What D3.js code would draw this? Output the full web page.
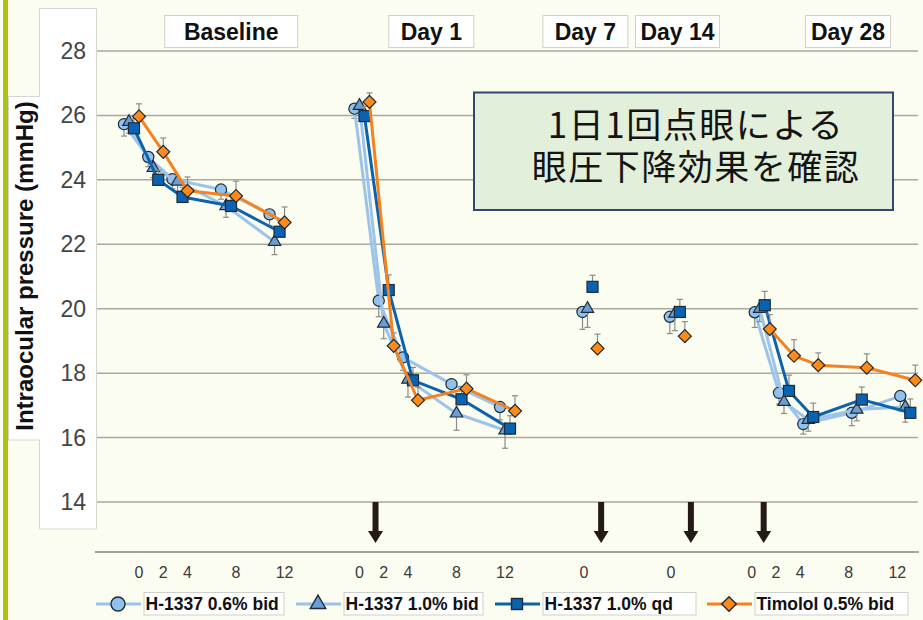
<!DOCTYPE html>
<html>
<head>
<meta charset="utf-8">
<script src="https://cdn.jsdelivr.net/npm/d3@7"></script>
<style>
  body { margin: 0; background: #fcfdf1; }
  svg { display: block; font-family: "Liberation Sans", Arial, sans-serif; }
</style>
</head>
<body>
<svg id="chart" width="923" height="620"></svg>
<script>
// ---- data ----
const periods = ['Baseline', 'Day 1', 'Day 7', 'Day 14', 'Day 28']
const periodStart = [0, 19, 37.8, 45, 52]   // hours on the continuous x axis
const hours = [[0, 2, 4, 8, 12], [0, 2, 4, 8, 12], [0], [0], [0, 2, 4, 8, 12]]
const seriesNames = ['H-1337 0.6% bid', 'H-1337 1.0% bid', 'H-1337 1.0% qd', 'Timolol 0.5% bid']
const yTicks = [14, 16, 18, 20, 22, 24, 26, 28]

const iop06bid = [[25.73, 24.71, 24.02, 23.70, 22.93], [26.21, 20.25, 18.49, 17.66, 16.95], [19.90], [19.75], [19.89, 17.39, 16.42, 16.77, 17.29]]
const iop10bid = [[25.80, 24.37, 23.95, 23.19, 22.08], [26.30, 19.54, 17.80, 16.75, 16.23], [20.00], [19.85], [20.00, 17.11, 16.55, 16.87, 16.95]]
const iop10qd = [[25.60, 24.00, 23.47, 23.19, 22.39], [25.98, 20.58, 17.78, 17.19, 16.28], [20.68], [19.90], [20.11, 17.45, 16.64, 17.18, 16.77]]
const timolol = [[25.97, 24.87, 23.66, 23.50, 22.68], [26.42, 18.85, 17.16, 17.52, 16.83], [18.77], [19.15], [19.37, 18.54, 18.25, 18.17, 17.78]]

const sem06bid = [[0.37, 0.30, 0.30, 0.30, 0.35], [0.30, 0.50, 0.40, 0.35, 0.40], [0.54], [0.52], [0.47, 0.35, 0.31, 0.40, 0.35]]
const sem10bid = [[0.35, 0.30, 0.30, 0.35, 0.40], [0.30, 0.47, 0.54, 0.52, 0.56], [0.58], [0.53], [0.40, 0.36, 0.35, 0.35, 0.47]]
const sem10qd = [[0.30, 0.30, 0.30, 0.30, 0.35], [0.30, 0.47, 0.40, 0.40, 0.40], [0.36], [0.39], [0.43, 0.49, 0.43, 0.39, 0.43]]
const semTim = [[0.39, 0.43, 0.43, 0.46, 0.48], [0.28, 0.40, 0.40, 0.43, 0.47], [0.44], [0.45], [0.45, 0.50, 0.38, 0.43, 0.47]]

const boxLines = ['1日1回点眼による', '眼圧下降効果を確認']

// ---- layout ----
const W = 923, H = 620
const series = [
  { name: seriesNames[0], v: iop06bid, e: sem06bid, dir: -1, line: '#9cc4e8', fill: '#8fc1ec', shape: 'circle', dodge: -15 },
  { name: seriesNames[1], v: iop10bid, e: sem10bid, dir: -1, line: '#9cc4e8', fill: '#6b9fd3', shape: 'triangle', dodge: -10 },
  { name: seriesNames[2], v: iop10qd, e: sem10qd, dir: 1, line: '#0b63ad', fill: '#0a63b0', shape: 'square', dodge: -5 },
  { name: seriesNames[3], v: timolol, e: semTim, dir: 1, line: '#f5821f', fill: '#ff8a17', shape: 'diamond', dodge: 0 }
]
const headerAt = [7.6, 5.1, -1.0, -0.6, 6.45]   // header centre, hours from period start
const headerW = [133, 85, 85, 84, 85]
const tickShift = [0, -10, -13.5, -14, -18]
const arrowAt = [null, 0.5, 0.3, 0.5, -0.5]

const svg = d3.select('#chart')
const x = d3.scaleLinear().domain([0, 64]).range([139, 915.3])
const y = d3.scaleLinear().domain([12.45, 28]).range([552, 51])

// background + left accent
svg.append('rect').attr('width', W).attr('height', H).attr('fill', '#fcfdf1')
svg.append('rect').attr('x', 3).attr('y', 0).attr('width', 5).attr('height', H).attr('fill', '#aec214')

// white panels behind the y axis
svg.append('rect').attr('x', 39.5).attr('y', 8.5).attr('width', 57).attr('height', 520.5).attr('fill', '#fff')
svg.append('rect').attr('x', 8.5).attr('y', 96.5).attr('width', 32).attr('height', 343.5).attr('fill', '#fff')
svg.append('path')
  .attr('d', 'M39.5,96.5 V8.5 H96.5 V529 H39.5 V440 H8.5 V96.5 Z')
  .attr('fill', 'none').attr('stroke', '#d6d6d0').attr('stroke-width', 1)

// grid
svg.append('g').selectAll('line').data(yTicks).join('line')
  .attr('x1', 97).attr('x2', 918)
  .attr('y1', d => y(d)).attr('y2', d => y(d))
  .attr('stroke', '#a9a99e').attr('stroke-width', 1.5)

svg.append('g').selectAll('text').data(yTicks).join('text')
  .attr('x', 86).attr('y', d => y(d) + 8)
  .attr('text-anchor', 'end').attr('font-size', 23).attr('fill', '#444')
  .text(d => d)

// x axis line
svg.append('line').attr('x1', 95).attr('x2', 919).attr('y1', y(12.45)).attr('y2', y(12.45))
  .attr('stroke', '#a4a496').attr('stroke-width', 2)

// y title
svg.append('text')
  .attr('transform', `translate(33,266) rotate(-90)`)
  .attr('text-anchor', 'middle').attr('font-size', 24).attr('font-weight', 'bold').attr('fill', '#111')
  .text('Intraocular pressure (mmHg)')

// x tick labels
periods.forEach((p, i) => {
  svg.append('g').selectAll('text').data(hours[i]).join('text')
    .attr('x', h => x(periodStart[i] + h) + tickShift[i])
    .attr('y', 578)
    .attr('text-anchor', 'middle').attr('font-size', 16).attr('fill', '#3a3a3a')
    .text(h => h)
})

// period headers
periods.forEach((p, i) => {
  const cx = x(periodStart[i] + headerAt[i])
  svg.append('rect').attr('x', cx - headerW[i] / 2).attr('y', 15.5)
    .attr('width', headerW[i]).attr('height', 32)
    .attr('fill', '#fff').attr('stroke', '#d0d0cc').attr('stroke-width', 1)
  svg.append('text').attr('x', cx).attr('y', 39.5)
    .attr('text-anchor', 'middle').attr('font-size', 23).attr('font-weight', 'bold').attr('fill', '#111')
    .text(p)
})

// dosing arrows
const arrow = d3.path()
periods.forEach((p, i) => {
  if (arrowAt[i] === null) return
  const ax = x(periodStart[i] + arrowAt[i]), top = y(14)
  arrow.moveTo(ax - 3, top); arrow.lineTo(ax + 3, top); arrow.lineTo(ax + 3, top + 29)
  arrow.lineTo(ax + 7.5, top + 29); arrow.lineTo(ax, top + 41); arrow.lineTo(ax - 7.5, top + 29)
  arrow.lineTo(ax - 3, top + 29); arrow.closePath()
})
svg.append('path').attr('d', arrow.toString()).attr('fill', '#241a16')

// callout box (one text element, two lines)
svg.append('rect').attr('x', 474).attr('y', 92.5).attr('width', 419).attr('height', 117.5)
  .attr('fill', '#e2efda').attr('stroke', '#34466e').attr('stroke-width', 2)
svg.append('text')
  .attr('text-anchor', 'middle')
  .style('font-family', '"Noto Sans CJK JP", sans-serif')
  .attr('font-size', 35).attr('letter-spacing', 1.5).attr('fill', '#141414')
  .selectAll('tspan').data(boxLines).join('tspan')
  .attr('x', 696).attr('y', (d, i) => 138 + i * 42)
  .text(d => d)

// markers
function marker(sel, shape, big) {
  const k = big ? 1.25 : 1
  if (shape === 'circle') return sel.append('circle').attr('r', 5.6 * k)
  if (shape === 'square') return sel.append('rect').attr('x', -5.5).attr('y', -5.5).attr('width', 11).attr('height', 11)
  if (shape === 'diamond') return sel.append('path').attr('d', d3.symbol(d3.symbolSquare, 84 * k)()).attr('transform', 'rotate(45)')
  return sel.append('path').attr('d', d3.symbol(d3.symbolTriangle, 66 * k * k)())
}

const line = d3.line().x(d => d.px).y(d => y(d.v))

series.forEach(s => {
  const g = svg.append('g')
  periods.forEach((p, i) => {
    const pts = hours[i].map((h, j) => ({ px: x(periodStart[i] + h) + s.dodge, v: s.v[i][j], e: s.e[i][j] }))
    // error bars (one sided)
    const eb = g.append('g').attr('stroke', '#8c8c88').attr('stroke-width', 1.2)
    pts.forEach(d => {
      const yt = y(d.v + s.dir * d.e)
      eb.append('line').attr('x1', d.px).attr('x2', d.px).attr('y1', y(d.v)).attr('y2', yt)
      eb.append('line').attr('x1', d.px - 3).attr('x2', d.px + 3).attr('y1', yt).attr('y2', yt)
    })
    if (pts.length > 1) {
      g.append('path').datum(pts).attr('d', line)
        .attr('fill', 'none').attr('stroke', s.line).attr('stroke-width', 3).attr('stroke-linejoin', 'round')
    }
    pts.forEach(d => {
      const m = g.append('g').attr('transform', `translate(${d.px},${y(d.v)})`)
      marker(m, s.shape).attr('fill', s.fill).attr('stroke', '#1e2a38').attr('stroke-width', 1.2)
    })
  })
})

// legend
const legX = [96, 296, 495, 707]
const legBoxW = [140, 139, 153, 153]
series.forEach((s, i) => {
  const g = svg.append('g').attr('transform', `translate(${legX[i]},604)`)
  g.append('line').attr('x1', 0).attr('x2', 45).attr('stroke', s.line).attr('stroke-width', 3)
  marker(g.append('g').attr('transform', 'translate(22,0)'), s.shape, true)
    .attr('fill', s.fill).attr('stroke', '#1e2a38').attr('stroke-width', 1.4)
  g.append('rect').attr('x', 48).attr('y', -11.5).attr('width', legBoxW[i]).attr('height', 22.5)
    .attr('fill', '#fff').attr('stroke', '#cfcfca')
  g.append('text').attr('x', 49.5).attr('y', 6).attr('font-size', 17.5).attr('font-weight', 'bold').attr('fill', '#111')
    .text(s.name)
})
</script>
</body>
</html>
